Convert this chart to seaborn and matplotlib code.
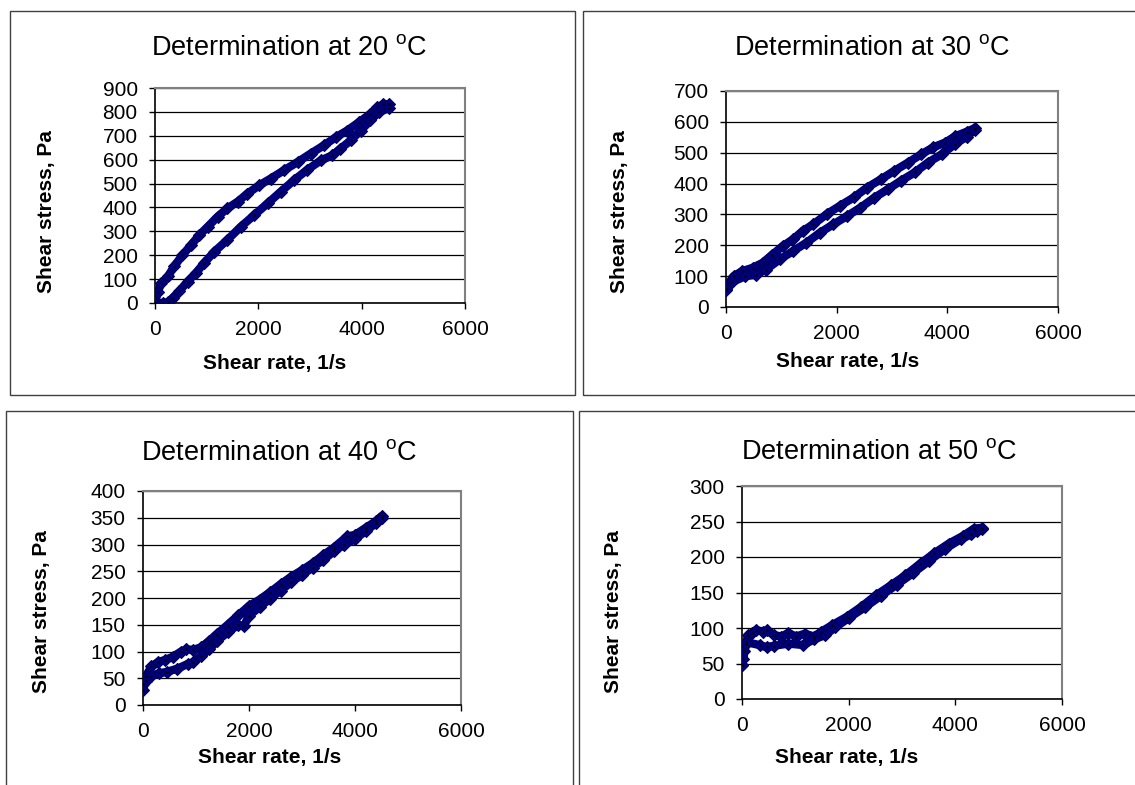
import matplotlib
matplotlib.use("Agg")
import matplotlib.pyplot as plt
from matplotlib.patches import Rectangle
import seaborn as sns
import pandas as pd

sns.set_style("white")
plt.rcParams['font.family'] = ['Liberation Sans', 'DejaVu Sans']
plt.rcParams['mathtext.fontset'] = 'custom'
plt.rcParams['mathtext.rm'] = 'Liberation Sans'
plt.rcParams['text.color'] = 'black'
plt.rcParams['xtick.color'] = 'black'
plt.rcParams['ytick.color'] = 'black'

# 20 oC loop: upper (rising) branch and lower branch
shear_20_up = [0, 50, 120, 250, 370, 530, 700, 860, 1020, 1210, 1400, 1600, 1790, 2020,
               2240, 2500, 2760, 3010, 3270, 3500, 3720, 3950, 4170, 4300, 4420, 4520]
stress_20_up = [0, 44, 83, 111, 153, 200, 243, 285, 319, 361, 396, 424, 458, 493,
                521, 556, 590, 625, 660, 694, 722, 757, 792, 819, 832, 832]
shear_20_down = [0, 150, 250, 340, 470, 630, 790, 950, 1150, 1400, 1660, 1920, 2180, 2430,
                 2690, 2950, 3210, 3430, 3590, 3790, 3980, 4170, 4330, 4520]
stress_20_down = [0, 0, 3, 21, 49, 90, 125, 167, 215, 264, 319, 368, 417, 465,
                  514, 558, 597, 618, 646, 681, 722, 764, 799, 815]

# 30 oC loop
shear_30_up = [0, 50, 140, 290, 480, 660, 840, 1030, 1210, 1390, 1580, 1820, 2060, 2310,
               2550, 2800, 3040, 3290, 3530, 3740, 3960, 4140, 4350, 4500]
stress_30_up = [58, 78, 100, 116, 127, 143, 170, 198, 219, 247, 268, 301, 328, 355,
                387, 414, 441, 468, 495, 517, 533, 553, 568, 580]
shear_30_down = [0, 100, 350, 540, 720, 970, 1210, 1450, 1700, 1940, 2190, 2430, 2680, 2920,
                 3160, 3410, 3650, 3900, 4140, 4350, 4500]
stress_30_down = [55, 80, 100, 104, 121, 154, 181, 208, 241, 268, 295, 322, 354, 381,
                  409, 436, 468, 495, 528, 552, 575]

# 40 oC loop
shear_40_up = [0, 60, 160, 280, 410, 560, 720, 820, 950, 1100, 1250, 1400, 1600, 1800,
               2000, 2200, 2400, 2600, 2800, 3000, 3200, 3400, 3600, 3850, 4000, 4200,
               4400, 4500]
stress_40_up = [40, 55, 72, 80, 84, 90, 100, 104, 103, 108, 120, 133, 150, 168,
                185, 197, 211, 226, 240, 252, 265, 280, 294, 315, 318, 331,
                344, 353]
shear_40_down = [0, 50, 150, 300, 450, 650, 850, 950, 1100, 1250, 1400, 1600, 1800, 1900,
                 2000, 2200, 2400, 2600, 2800, 3000, 3200, 3400, 3600, 3800, 4000, 4200,
                 4400, 4500]
stress_40_down = [28, 45, 55, 59, 62, 68, 77, 80, 92, 104, 120, 136, 150, 147,
                  167, 183, 199, 214, 230, 243, 257, 271, 287, 300, 310, 325,
                  340, 350]

# 50 oC loop
shear_50_up = [0, 20, 40, 70, 120, 190, 260, 400, 460, 600, 740, 870, 1010, 1180, 1350,
               1490, 1690, 1970, 2240, 2510, 2790, 3060, 3330, 3600, 3880, 4150, 4350, 4500]
stress_50_up = [48, 57, 67, 78, 90, 93, 97, 95, 97, 90, 88, 93, 88, 92, 88,
                95, 104, 116, 130, 146, 160, 174, 190, 205, 219, 230, 240, 241]
shear_50_down = [0, 80, 330, 460, 600, 870, 1150, 1350, 1560, 1750, 2000, 2300, 2600, 2900,
                 3200, 3500, 3800, 4100, 4300, 4400, 4500]
stress_50_down = [48, 80, 76, 73, 75, 78, 76, 84, 90, 101, 114, 129, 145, 161,
                  177, 194, 211, 225, 232, 237, 240]

W, H = 1135, 785
fig = plt.figure(figsize=(W / 100, H / 100), dpi=100)


def px_box(x0, y0, x1, y1):
    return [x0 / W, 1 - y1 / H, (x1 - x0) / W, (y1 - y0) / H]


panels = [
    dict(temp="20", up=(shear_20_up, stress_20_up), down=(shear_20_down, stress_20_down),
         ax=(155, 88, 465, 303), ymax=900, ystep=100,
         title=(289, 48), ylab=(47, 212), xlab=(275, 363), frame=(10, 11, 575, 395)),
    dict(temp="30", up=(shear_30_up, stress_30_up), down=(shear_30_down, stress_30_down),
         ax=(726, 91, 1058, 307), ymax=700, ystep=100,
         title=(872, 48), ylab=(619, 212), xlab=(848, 362), frame=(583, 11, 1140, 395)),
    dict(temp="40", up=(shear_40_up, stress_40_up), down=(shear_40_down, stress_40_down),
         ax=(143, 491, 461, 705), ymax=400, ystep=50,
         title=(279, 453), ylab=(42, 612), xlab=(270, 758), frame=(6, 411, 573, 800)),
    dict(temp="50", up=(shear_50_up, stress_50_up), down=(shear_50_down, stress_50_down),
         ax=(742, 486, 1062, 699), ymax=300, ystep=50,
         title=(879, 452), ylab=(614, 612), xlab=(847, 758), frame=(579, 411, 1140, 800)),
]

for p in panels:
    # chart frame around each panel
    fx0, fy0, fx1, fy1 = p["frame"]
    fig.patches.append(Rectangle((fx0 / W, 1 - fy1 / H), (fx1 - fx0) / W, (fy1 - fy0) / H,
                                 transform=fig.transFigure, fill=False,
                                 edgecolor="#404040", linewidth=1.0))

    ax = fig.add_axes(px_box(*p["ax"]))
    up_x, up_y = p["up"]
    dn_x, dn_y = p["down"]
    loop = pd.DataFrame({
        "shear": list(up_x) + list(dn_x)[::-1],
        "stress": list(up_y) + list(dn_y)[::-1],
    })
    sns.lineplot(data=loop, x="shear", y="stress", sort=False, estimator=None, ax=ax,
                 color="#000080", linewidth=6, marker="D", markersize=6.5,
                 markeredgecolor="#00005a", markeredgewidth=0.8, zorder=3)
    sns.scatterplot(data=loop, x="shear", y="stress", ax=ax, color="black", s=3,
                    linewidth=0, zorder=4)

    ax.set_xlim(0, 6000)
    ax.set_ylim(0, p["ymax"])
    ax.set_xticks(range(0, 6001, 2000))
    ax.set_yticks(range(0, p["ymax"] + 1, p["ystep"]))
    ax.yaxis.grid(True, color="black", linewidth=0.9)
    ax.set_axisbelow(True)
    ax.tick_params(axis="both", direction="out", length=4.5, width=1, color="black",
                   labelcolor="black", labelsize=15, pad=8, left=True, bottom=True)
    for side in ["top", "right"]:
        ax.spines[side].set_color("#808080")
        ax.spines[side].set_linewidth(1.5)
    for side in ["left", "bottom"]:
        ax.spines[side].set_color("black")
        ax.spines[side].set_linewidth(1.2)
    ax.set_xlabel("")
    ax.set_ylabel("")

    tx, ty = p["title"]
    fig.text(tx / W, 1 - ty / H, "Determination at " + p["temp"] + r" $^{\mathrm{o}}$C",
             ha="center", va="center", fontsize=19.5, color="black")
    lx, ly = p["ylab"]
    fig.text(lx / W, 1 - ly / H, "Shear stress, Pa", rotation=90, ha="center", va="center",
             fontsize=15, fontweight="bold", color="black")
    bx, by = p["xlab"]
    fig.text(bx / W, 1 - by / H, "Shear rate, 1/s", ha="center", va="center",
             fontsize=15, fontweight="bold", color="black")

fig.savefig("out.png", dpi=100)
